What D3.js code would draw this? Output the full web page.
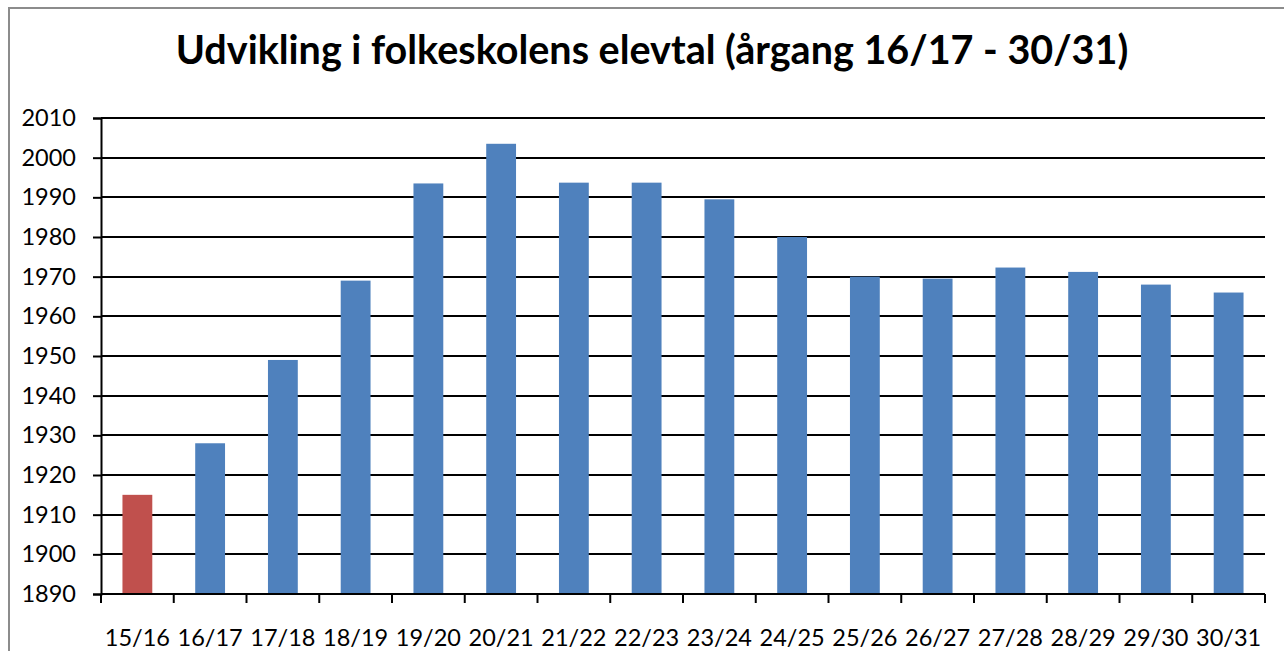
<!DOCTYPE html>
<html>
<head>
<meta charset="utf-8">
<script src="https://cdn.jsdelivr.net/npm/d3@7"></script>
<style>
  body { margin: 0; background: #fff; }
  text { font-family: Lato, "Open Sans", sans-serif; }
</style>
</head>
<body>
<div id="chart"></div>
<script>
var categories = ["15/16", "16/17", "17/18", "18/19", "19/20", "20/21", "21/22", "22/23",
                  "23/24", "24/25", "25/26", "26/27", "27/28", "28/29", "29/30", "30/31"];
var elevtal = [1915, 1928, 1949, 1969, 1993.5, 2003.5, 1993.7, 1993.7,
               1989.5, 1980, 1970, 1969.5, 1972.3, 1971.2, 1968, 1966];
var yTicks = [1890, 1900, 1910, 1920, 1930, 1940, 1950, 1960, 1970, 1980, 1990, 2000, 2010];
var titleText = "Udvikling i folkeskolens elevtal (årgang 16/17 - 30/31)";

var W = 1284, H = 651;
var margin = {top: 118, right: 19, bottom: 57, left: 101},
    width = W - margin.left - margin.right,
    height = H - margin.top - margin.bottom;

var root = d3.select("#chart").append("svg")
  .attr("width", W)
  .attr("height", H);

// outer frame of the chart object
root.append("rect")
  .attr("x", 9).attr("y", 8)
  .attr("width", W + 10).attr("height", H + 10)
  .attr("fill", "#fff")
  .attr("stroke", "#8c8c8c")
  .attr("stroke-width", 2);

root.append("text")
  .attr("x", 652)
  .attr("y", 64)
  .attr("text-anchor", "middle")
  .style("font-size", "39.5px")
  .style("font-weight", "bold")
  .text(titleText);

var svg = root.append("g")
  .attr("transform", "translate(" + margin.left + "," + margin.top + ")");

var x = d3.scaleBand()
  .domain(categories)
  .range([0, width])
  .paddingInner(0.59)
  .paddingOuter(0.295);

var xTicks = d3.scaleLinear().domain([0, categories.length]).range([0, width]);

var y = d3.scaleLinear()
  .domain([1890, 2010])
  .range([height, 0]);

// gridlines
svg.append("g")
  .selectAll("line")
  .data(yTicks.slice(1))
  .enter()
  .append("line")
    .attr("x1", 0)
    .attr("x2", width)
    .attr("y1", function (d) { return Math.round(y(d)); })
    .attr("y2", function (d) { return Math.round(y(d)); })
    .attr("stroke", "#000")
    .attr("stroke-width", 2);

// bars
svg.append("g")
  .selectAll("rect")
  .data(elevtal)
  .enter()
  .append("rect")
    .attr("x", function (d, i) { return x(categories[i]); })
    .attr("y", function (d) { return y(d); })
    .attr("width", x.bandwidth())
    .attr("height", function (d) { return height - y(d); })
    .attr("fill", function (d, i) { return i === 0 ? "#c0504d" : "#4f81bd"; });

// y axis
var yAxis = svg.append("g")
  .call(d3.axisLeft(y).tickValues(yTicks).tickFormat(d3.format("d")).tickSize(8).tickPadding(17));
yAxis.select(".domain").attr("stroke-width", 2);
yAxis.selectAll(".tick line").attr("stroke-width", 2);
yAxis.selectAll("text").style("font-size", "23.5px").attr("fill", "#000");

// x axis: ticks between categories, labels centred in each band
var xAxis = svg.append("g")
  .attr("transform", "translate(0," + height + ")");
xAxis.append("line")
  .attr("x1", 0).attr("x2", width)
  .attr("stroke", "#000").attr("stroke-width", 2);
xAxis.selectAll(".xt")
  .data(d3.range(categories.length + 1))
  .enter()
  .append("line")
    .attr("class", "xt")
    .attr("x1", function (d) { return xTicks(d); })
    .attr("x2", function (d) { return xTicks(d); })
    .attr("y1", 0).attr("y2", 9)
    .attr("stroke", "#000").attr("stroke-width", 2);
xAxis.selectAll(".xl")
  .data(categories)
  .enter()
  .append("text")
    .attr("class", "xl")
    .attr("x", function (d) { return x(d) + x.bandwidth() / 2; })
    .attr("y", 52)
    .attr("text-anchor", "middle")
    .style("font-size", "23.5px")
    .text(function (d) { return d; });
</script>
</body>
</html>
